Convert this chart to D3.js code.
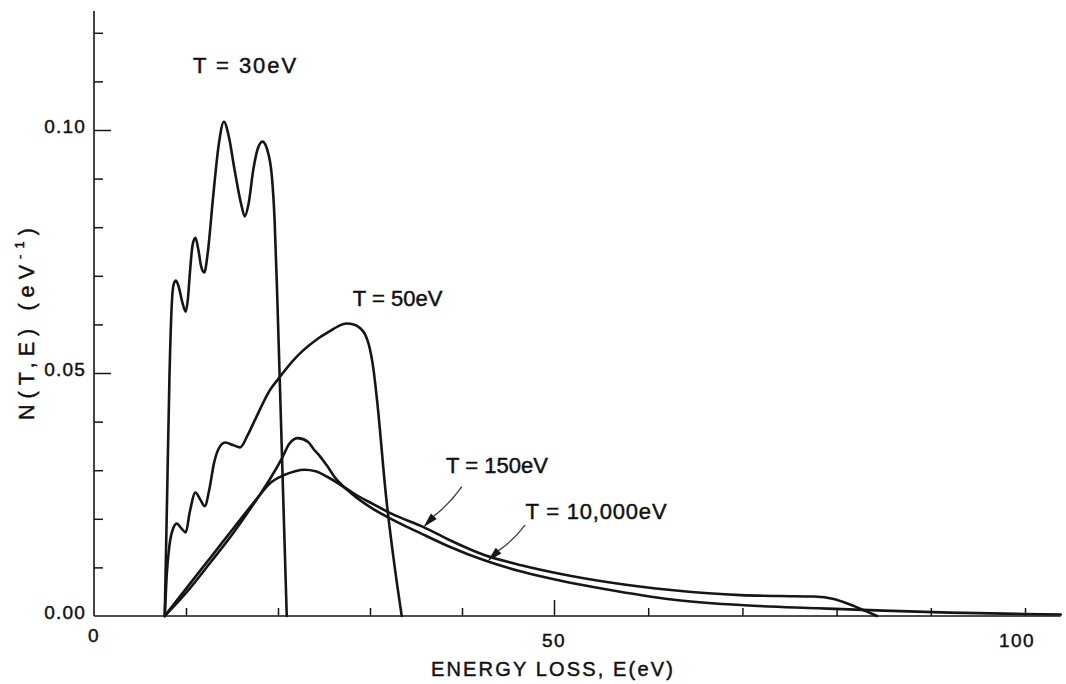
<!DOCTYPE html>
<html>
<head>
<meta charset="utf-8">
<script src="https://cdn.jsdelivr.net/npm/d3@7"></script>
<style>
  html, body { margin: 0; background: #fff; }
  svg { display: block; }
  text { font-family: "Liberation Sans", Arial, sans-serif; fill: #111; stroke: #111; stroke-width: 0.45px; }
</style>
</head>
<body>
<svg id="chart" width="1066" height="684"></svg>
<script>
// Energy-loss distribution N(T,E) for several primary energies T.
// Energies in eV, N in eV^-1.

const energy30 = [7.69, 7.94, 8.2, 8.45, 8.65, 8.9, 9.21, 9.61, 9.97, 10.22, 10.42, 10.73, 11.03, 11.33, 11.64, 11.99, 12.35, 12.95, 13.56, 14.12, 14.67, 15.28, 15.99, 16.39, 16.8, 17.31, 17.81, 18.32, 18.82, 19.33, 19.63, 19.93, 20.44, 20.95];
const n30      = [0, 0.024, 0.049, 0.064, 0.0682, 0.069, 0.0677, 0.0645, 0.0626, 0.0655, 0.0705, 0.0765, 0.0778, 0.0755, 0.072, 0.0707, 0.0745, 0.0863, 0.097, 0.1017, 0.0985, 0.0918, 0.0848, 0.0822, 0.0848, 0.0918, 0.0962, 0.0976, 0.096, 0.0905, 0.0815, 0.065, 0.0325, 0];

const energy50 = [7.69, 7.89, 8.2, 8.6, 9.0, 9.51, 9.97, 10.42, 11.03, 11.54, 12.04, 12.55, 13.05, 13.66, 14.27, 15.08, 15.89, 16.7, 17.51, 19.13, 20.04, 21.86, 22.77, 24.29, 25.65, 26.62, 27.43, 28.23, 28.94, 29.45, 29.85, 30.36, 30.76, 31.78, 32.69, 33.45];
const n50      = [0, 0.008, 0.0145, 0.018, 0.019, 0.018, 0.0172, 0.0215, 0.0254, 0.024, 0.0226, 0.0262, 0.0315, 0.0348, 0.0357, 0.0352, 0.0347, 0.0372, 0.0404, 0.0465, 0.0488, 0.053, 0.0547, 0.057, 0.0586, 0.0597, 0.0602, 0.06, 0.0592, 0.058, 0.056, 0.051, 0.0445, 0.024, 0.01, 0];

const energy150 = [7.69, 10.12, 12.65, 15.18, 17.86, 19.23, 20.44, 21.25, 22.16, 23.28, 23.88, 24.59, 25.3, 26.31, 26.92, 28.34, 30.36, 32.38, 35.82, 38.46, 42.5, 46.55, 50.6, 55.6, 62.7, 69.8, 74.0, 77.6, 79.7, 81.5, 83.1, 84.3];
const n150      = [0, 0.005, 0.011, 0.0172, 0.0245, 0.0285, 0.0325, 0.0355, 0.0366, 0.0358, 0.0343, 0.0328, 0.031, 0.0282, 0.027, 0.0251, 0.023, 0.021, 0.0183, 0.0158, 0.0125, 0.0104, 0.0087, 0.007, 0.0053, 0.0043, 0.0041, 0.004, 0.0035, 0.0023, 0.001, 0];

const energy10000 = [7.69, 10.12, 12.65, 15.18, 17.86, 19.13, 20.54, 21.86, 22.87, 24.08, 25.3, 26.92, 28.94, 30.36, 32.38, 35.42, 38.46, 42.5, 46.55, 50.6, 55.5, 62.5, 70.2, 78.0, 85.0, 92.0, 100.0, 103.8];
const n10000      = [0, 0.0059, 0.012, 0.0181, 0.0245, 0.0273, 0.0289, 0.0298, 0.0301, 0.0298, 0.0287, 0.0268, 0.0238, 0.022, 0.0199, 0.0171, 0.0144, 0.0114, 0.0091, 0.0073, 0.0055, 0.0034, 0.0022, 0.0016, 0.0011, 0.0007, 0.0004, 0.0003];

const curveNames = ["T = 30eV", "T = 50eV", "T = 150eV", "T = 10,000eV"];

const xMinorTicks = [10, 20, 30, 40, 60, 70, 80, 90, 100];
const xMajorTicks = [50];
const xTickLabels = [0, 50, 100];
const yMinorTicks = [0.01, 0.02, 0.03, 0.04, 0.06, 0.07, 0.08, 0.09, 0.11, 0.12];
const yMajorTicks = [0.05, 0.10];
const yTickLabels = [0, 0.05, 0.10];

const svg = d3.select("#chart");

// The printed abscissa is very slightly stretched toward high energy.
const x = d3.scaleLinear().domain([0, 50, 100]).range([94, 554, 1025]);
const y = d3.scaleLinear().domain([0, 0.10]).range([616, 130]);

const xMax = 103.8;
const yMax = 0.1245;

const ink = "#161616";

// Spread a text's letters so that it spans the given width.
function fitSpacing(sel, width) {
  sel.each(function () {
    const node = this;
    const n = node.textContent.length;
    d3.select(node).attr("letter-spacing", 0);
    const natural = node.getComputedTextLength();
    d3.select(node).attr("letter-spacing", Math.max(0, (width - natural) / n));
  });
}

// Axes
const axes = svg.append("g").attr("stroke", ink).attr("stroke-width", 1.6).attr("fill", "none");
axes.append("line").attr("x1", x(0)).attr("x2", x(xMax)).attr("y1", y(0)).attr("y2", y(0));
axes.append("line").attr("x1", x(0)).attr("x2", x(0)).attr("y1", y(0)).attr("y2", y(yMax));

// X ticks point upward, into the plot
svg.append("g")
  .attr("transform", `translate(0,${y(0)})`)
  .call(d3.axisTop(x).tickValues(xMinorTicks).tickSize(8).tickFormat(""))
  .call(g => g.select(".domain").remove())
  .call(g => g.selectAll("line").attr("stroke", ink).attr("stroke-width", 1.5));
svg.append("g")
  .attr("transform", `translate(0,${y(0)})`)
  .call(d3.axisTop(x).tickValues(xMajorTicks).tickSize(16).tickFormat(""))
  .call(g => g.select(".domain").remove())
  .call(g => g.selectAll("line").attr("stroke", ink).attr("stroke-width", 1.5));

// Y ticks point right, into the plot
svg.append("g")
  .attr("transform", `translate(${x(0)},0)`)
  .call(d3.axisRight(y).tickValues(yMinorTicks).tickSize(9).tickFormat(""))
  .call(g => g.select(".domain").remove())
  .call(g => g.selectAll("line").attr("stroke", ink).attr("stroke-width", 1.5));
svg.append("g")
  .attr("transform", `translate(${x(0)},0)`)
  .call(d3.axisRight(y).tickValues(yMajorTicks).tickSize(17).tickFormat(""))
  .call(g => g.select(".domain").remove())
  .call(g => g.selectAll("line").attr("stroke", ink).attr("stroke-width", 1.5));

// Tick labels
svg.append("g").selectAll("text")
  .data(xTickLabels).join("text")
  .attr("x", d => x(d) - (d === 100 ? 8 : 0))
  .attr("y", d => y(0) + (d === 0 ? 19 : 24))
  .attr("text-anchor", "middle")
  .attr("dominant-baseline", "central")
  .attr("font-size", 19)
  .attr("letter-spacing", 1.5)
  .text(d => d3.format("d")(d));

svg.append("g").selectAll("text")
  .data(yTickLabels).join("text")
  .attr("x", x(0) - 8)
  .attr("y", d => y(d) - 4)
  .attr("text-anchor", "end")
  .attr("dominant-baseline", "central")
  .attr("font-size", 19)
  .attr("letter-spacing", 1.2)
  .text(d => d3.format(".2f")(d));

// Axis titles
svg.append("text")
  .attr("x", 431)
  .attr("y", 669)
  .attr("dominant-baseline", "central")
  .attr("font-size", 20)
  .text("ENERGY LOSS, E(eV)")
  .call(fitSpacing, 244);

const yTitle = svg.append("text")
  .attr("transform", `translate(27,${(222 + 420) / 2}) rotate(-90)`)
  .attr("text-anchor", "middle")
  .attr("dominant-baseline", "central")
  .attr("font-size", 21.5);
yTitle.append("tspan").text("N(T,E) (eV");
yTitle.append("tspan").attr("font-size", 13).attr("baseline-shift", "55%").text("-1");
yTitle.append("tspan").text(")");
yTitle.call(fitSpacing, 198);

// Curves
const line = d3.line()
  .x(d => x(d[0]))
  .y(d => y(d[1]))
  .curve(d3.curveMonotoneX);

const series = [
  d3.zip(energy30, n30),
  d3.zip(energy50, n50),
  d3.zip(energy150, n150),
  d3.zip(energy10000, n10000)
];

svg.append("g")
  .attr("fill", "none")
  .attr("stroke", ink)
  .attr("stroke-width", 2.6)
  .attr("stroke-linejoin", "round")
  .attr("stroke-linecap", "round")
  .selectAll("path")
  .data(series).join("path")
  .attr("d", line);

// Curve labels, placed in data coordinates
const labelSpots = [
  { e: 16.47, n: 0.1133, w: 105 },
  { e: 33.0, n: 0.0654, w: 83 },
  { e: 43.8, n: 0.0309, w: 100 },
  { e: 54.5, n: 0.0216, w: 142 }
];
svg.append("g").selectAll("text")
  .data(curveNames).join("text")
  .attr("x", (d, i) => x(labelSpots[i].e))
  .attr("y", (d, i) => y(labelSpots[i].n))
  .attr("text-anchor", "middle")
  .attr("dominant-baseline", "central")
  .attr("font-size", 22)
  .text(d => d)
  .each(function (d, i) { fitSpacing(d3.select(this), labelSpots[i].w); });

// Leader arrows from the two high-energy labels to their curves
const arrows = [
  { from: [39.97, 0.0266], to: [35.82, 0.0183] },
  { from: [46.85, 0.0187], to: [42.8, 0.0113] }
];
const arrowG = svg.append("g");
arrows.forEach(a => {
  const x0 = x(a.from[0]), y0 = y(a.from[1]);
  const x1 = x(a.to[0]), y1 = y(a.to[1]);
  const ang = Math.atan2(y1 - y0, x1 - x0);
  const headLen = 15, headHalf = 4;
  const bx = x1 - headLen * Math.cos(ang), by = y1 - headLen * Math.sin(ang);
  const mx = (x0 + bx) / 2 + 3 * Math.sin(ang), my = (y0 + by) / 2 - 3 * Math.cos(ang);
  arrowG.append("path")
    .attr("d", `M${x0},${y0} Q${mx},${my} ${bx},${by}`)
    .attr("fill", "none")
    .attr("stroke", "#444")
    .attr("stroke-width", 1.4);
  const px = -Math.sin(ang), py = Math.cos(ang);
  arrowG.append("path")
    .attr("d", `M${x1},${y1} L${bx + headHalf * px},${by + headHalf * py} L${bx - headHalf * px},${by - headHalf * py} Z`)
    .attr("fill", ink);
});
</script>
</body>
</html>
